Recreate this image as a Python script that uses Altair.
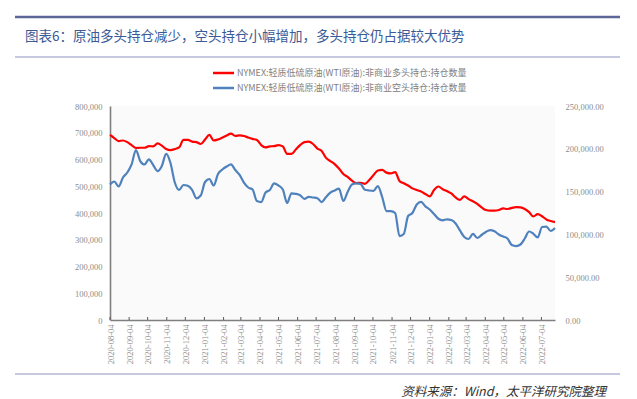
import altair as alt
import pandas as pd

# ---------------- data ----------------
week_dates = pd.date_range("2020-08-04", periods=104, freq="7D").strftime("%Y-%m-%d").tolist()

long_pos_k = [
    692, 680, 669, 671, 665, 654, 643, 644, 644, 650,
    649, 660, 652, 639, 635, 639, 645, 673, 673, 667,
    665, 658, 675, 692, 671, 675, 682, 690, 697, 688,
    690, 688, 682, 677, 673, 654, 645, 649, 650, 654,
    649, 621, 621, 637, 654, 665, 667, 658, 641, 632,
    606, 594, 583, 566, 546, 535, 521, 512, 513, 509,
    523, 542, 559, 561, 551, 548, 553, 520, 511, 503,
    492, 486, 480, 471, 462, 486, 499, 489, 482, 473,
    458, 449, 462, 452, 444, 434, 421, 411, 409, 409,
    411, 417, 415, 419, 422, 421, 415, 403, 387, 396,
    388, 376, 370, 366,
]

short_pos_k = [
    158.3, 161.8, 156.0, 166.5, 172.3, 181.7, 198.6, 185.7, 181.7, 187.7,
    181.0, 174.0, 180.0, 194.0, 183.4, 160.6, 151.9, 157.7, 156.8, 152.1,
    142.2, 145.4, 161.2, 164.7, 157.1, 170.6, 175.8, 179.3, 181.8, 175.2,
    169.4, 160.6, 154.8, 152.4, 139.0, 137.8, 148.9, 151.9, 159.7, 157.1,
    152.4, 136.7, 148.0, 147.4, 145.8, 141.6, 143.9, 143.1, 142.3, 137.8,
    143.7, 148.9, 151.3, 153.4, 139.0, 149.5, 158.3, 159.7, 158.9, 152.1,
    151.3, 150.9, 156.5, 143.7, 127.3, 127.3, 125.0, 98.1, 100.5, 121.5,
    125.0, 134.9, 138.1, 132.8, 129.1, 123.8, 118.3, 116.5, 117.6, 116.8,
    112.7, 104.6, 97.0, 94.6, 100.5, 95.8, 99.3, 102.8, 105.1, 103.6,
    99.9, 97.5, 95.2, 87.6, 86.4, 88.2, 95.2, 103.4, 100.7, 96.4,
    108.6, 109.2, 104.0, 107.5,
]

tick_dates = [
    "2020-08-04", "2020-09-04", "2020-10-04", "2020-11-04", "2020-12-04",
    "2021-01-04", "2021-02-04", "2021-03-04", "2021-04-04", "2021-05-04",
    "2021-06-04", "2021-07-04", "2021-08-04", "2021-09-04", "2021-10-04",
    "2021-11-04", "2021-12-04", "2022-01-04", "2022-02-04", "2022-03-04",
    "2022-04-04", "2022-05-04", "2022-06-04", "2022-07-04",
]
x_start = "2020-08-04"
x_end = "2022-07-26"

left_ticks = [0, 100000, 200000, 300000, 400000, 500000, 600000, 700000, 800000]
right_ticks = [0, 50000, 100000, 150000, 200000, 250000]

series_names = [
    "NYMEX:轻质低硫原油(WTI原油):非商业多头持仓:持仓数量",
    "NYMEX:轻质低硫原油(WTI原油):非商业空头持仓:持仓数量",
]
series_colors = ["#ff0000", "#4f81bd"]

title_text = "图表6：原油多头持仓减少，空头持仓小幅增加，多头持仓仍占据较大优势"
source_text = "资料来源：Wind，太平洋研究院整理"

# ---------------- tables ----------------
df_long = pd.DataFrame({"date": week_dates, "value": [v * 1000 for v in long_pos_k], "series": series_names[0]})
df_short = pd.DataFrame({"date": week_dates, "value": [v * 1000 for v in short_pos_k], "series": series_names[1]})
df_ticks = pd.DataFrame({"date": tick_dates})
df_legend = pd.DataFrame({"series": series_names, "row": [0, 1]})


def dt(s):
    y, m, d = (int(p) for p in s.split("-"))
    return alt.DateTime(year=y, month=m, date=d, utc=True)


label_font = "Liberation Serif"
label_color = "#8c8c8c"
axis_color = "#7f7f7f"

x_scale = alt.Scale(type="utc", domain=[dt(x_start), dt(x_end)], nice=False)
x_axis = alt.Axis(
    values=[dt(s) for s in tick_dates],
    format="%Y-%m-%d",
    labelAngle=-90,
    labelFlush=False,
    labelOverlap=False,
    labelFont=label_font,
    labelFontSize=8.5,
    labelColor=label_color,
    labelPadding=4,
    ticks=False,
    domainColor=axis_color,
    domainWidth=1.6,
    grid=False,
    title=None,
)
x_enc = alt.X("date:T", scale=x_scale, axis=x_axis)

color_enc = alt.Color(
    "series:N",
    scale=alt.Scale(domain=series_names, range=series_colors),
    legend=None,
)

long_line = alt.Chart(df_long).mark_line(strokeWidth=2.2, interpolate="monotone").encode(
    x=x_enc,
    y=alt.Y(
        "value:Q",
        scale=alt.Scale(domain=[0, 800000], nice=False),
        axis=alt.Axis(
            orient="left",
            values=left_ticks,
            format=",d",
            ticks=False,
            grid=False,
            domainColor=axis_color,
            domainWidth=1.6,
            labelFont=label_font,
            labelFontSize=8.5,
            labelColor=label_color,
            labelPadding=8,
            title=None,
        ),
    ),
    color=color_enc,
)

short_line = alt.Chart(df_short).mark_line(strokeWidth=2.2, interpolate="monotone").encode(
    x=x_enc,
    y=alt.Y(
        "value:Q",
        scale=alt.Scale(domain=[0, 250000], nice=False),
        axis=alt.Axis(
            orient="right",
            values=right_ticks,
            format=",.2f",
            ticks=False,
            grid=False,
            domain=False,
            labelFont=label_font,
            labelFontSize=8.5,
            labelColor=label_color,
            labelPadding=10,
            title=None,
        ),
    ),
    color=color_enc,
)

tick_marks = alt.Chart(df_ticks).mark_rule(color="#595959", strokeWidth=1).encode(
    x=x_enc,
    y=alt.value(211),
    y2=alt.value(214),
)

# custom legend (two rows)
legend_layers = []
for i in range(len(series_names)):
    row_y = -33 + 15 * i
    legend_layers.append(
        alt.Chart(df_legend).transform_filter(alt.datum.row == i)
        .mark_rule(strokeWidth=2.5, color=series_colors[i])
        .encode(x=alt.value(103), x2=alt.value(124), y=alt.value(row_y))
    )
    legend_layers.append(
        alt.Chart(df_legend).transform_filter(alt.datum.row == i)
        .mark_text(align="left", baseline="middle", font="Noto Sans CJK SC",
                   fontSize=9, color="#808080")
        .encode(x=alt.value(127), y=alt.value(row_y), text="series:N")
    )

one = pd.DataFrame({"t": [title_text]})
src = pd.DataFrame({"t": [source_text]})

top_rule = alt.Chart(one).mark_rule(color="#5d6699", strokeWidth=2.5).encode(
    x=alt.value(-95), x2=alt.value(510), y=alt.value(-89)
)
mid_rule = alt.Chart(one).mark_rule(color="#8f94bd", strokeWidth=1).encode(
    x=alt.value(-95), x2=alt.value(510), y=alt.value(-49)
)
bottom_rule = alt.Chart(one).mark_rule(color="#8f94bd", strokeWidth=1).encode(
    x=alt.value(-95), x2=alt.value(510), y=alt.value(268)
)
title_mark = alt.Chart(one).mark_text(
    align="left", baseline="middle", font="Noto Sans CJK SC", fontSize=13.5, color="#3a5a98"
).encode(x=alt.value(-85), y=alt.value(-69), text="t:N")
source_mark = alt.Chart(src).mark_text(
    align="right", baseline="middle", font="Noto Sans CJK SC", fontSize=12.5,
    fontStyle="italic", color="#333333"
).encode(x=alt.value(496), y=alt.value(286), text="t:N")

chart = (
    alt.layer(
        long_line, short_line, tick_marks, *legend_layers,
        top_rule, mid_rule, bottom_rule, title_mark, source_mark,
    )
    .resolve_scale(y="independent")
    .properties(
        width=445,
        height=214,
        autosize=alt.AutoSizeParams(type="none"),
        padding={"left": 102, "top": 98, "right": 74, "bottom": 79},
        background="white",
    )
    .configure_view(strokeWidth=0, fill="#fafafa")
    .configure_axis(labelOverlap=False)
)

chart.save("out.html", embed_options={"renderer": "svg", "actions": False})
